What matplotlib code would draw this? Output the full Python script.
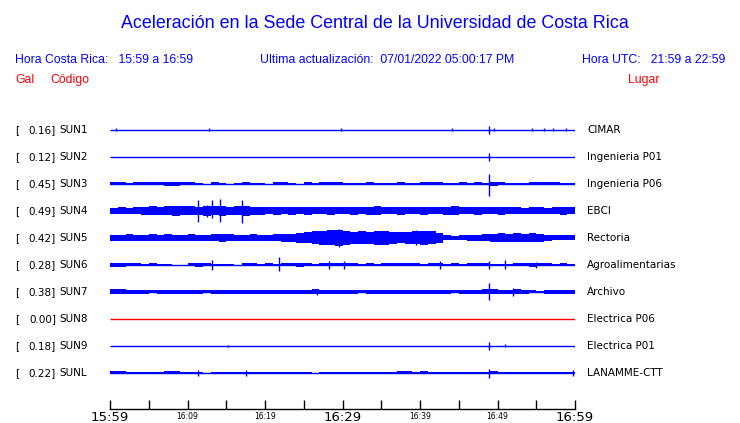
import matplotlib.pyplot as plt
import numpy as np

# station info
codes = ['SUN1', 'SUN2', 'SUN3', 'SUN4', 'SUN5', 'SUN6', 'SUN7', 'SUN8', 'SUN9', 'SUNL']
gals = [0.16, 0.12, 0.45, 0.49, 0.42, 0.28, 0.38, 0.00, 0.18, 0.22]
places = ['CIMAR', 'Ingenieria P01', 'Ingenieria P06', 'EBCI', 'Rectoria',
          'Agroalimentarias', 'Archivo', 'Electrica P06', 'Electrica P01', 'LANAMME-CTT']

# envelope (half amplitude) per minute
env_sun1 = [0] * 60
env_sun2 = [0] * 60
env_sun3 = [1.5, 1.5, 1, 1.5, 1.5, 1.5, 1.5, 2, 2, 1.5, 1.5, 1, 0, 1.5, 1, 0, 1, 1.5, 1, 1,
            0, 1.5, 1.5, 1, 0, 1.5, 1, 1.5, 1.5, 1.5, 1, 1, 0.8, 1.5, 1, 1, 1, 1.5, 1, 0.8,
            1.5, 1.5, 1.5, 0.5, 1, 1.5, 1, 1.5, 1, 2, 1.5, 1, 1, 1, 1.5, 1.5, 1.5, 1.5, 1, 1]
env_sun4 = [3, 3.5, 3, 3.5, 4, 4.5, 4, 4.5, 5, 4.5, 4.5, 4, 5, 4.5, 5, 4, 4.5, 5, 4, 4,
            3.5, 4, 3.5, 4, 3.5, 4, 3.5, 3.5, 4, 3.5, 3.5, 4, 3.5, 4, 4.5, 3.5, 3.5, 4, 3.5, 3.5,
            4, 3.5, 3.5, 4, 4.5, 3.5, 3.5, 4, 3.5, 3.5, 4, 3.5, 3.5, 3, 3.5, 3.5, 3, 3.5, 4, 3.5]
env_sun5 = [3, 3, 3.5, 3, 3, 3.5, 3, 3.5, 3, 3, 3.5, 3, 3, 3.5, 4, 3.5, 3, 3, 3.5, 3,
            3, 3.5, 4, 4, 5, 5.5, 6.5, 7, 7.5, 8, 7, 6, 6.5, 6, 7, 7, 6, 5.5, 6, 6.5,
            7, 6.5, 5, 2.5, 2, 2.5, 3, 3, 3.5, 4, 4.5, 4, 4.5, 4, 4.5, 4, 3, 2.5, 2.5, 2.5]
env_sun6 = [2, 2, 1.5, 1.5, 1, 1.5, 1, 0.5, 0, 0, 1.5, 2, 1.5, 1, 0.5, 1, 0, 1.5, 1.5, 1,
            1.5, 1, 1.5, 1.5, 2, 1.5, 1, 1.5, 1.5, 1.5, 1.5, 1.5, 1, 1.5, 1, 1.5, 1.5, 1.5, 1.5, 1.5,
            1, 1.5, 1.5, 0.5, 1.5, 1, 1.5, 1.5, 1.5, 1, 1, 0.5, 1.5, 1.5, 2, 1.5, 1.5, 1, 1.5, 1]
env_sun7 = [2.5, 2.5, 2, 2, 2, 1.5, 2, 2, 2, 2, 2, 2, 1.5, 2, 2, 2, 2, 2, 2, 2,
            2, 2, 2, 2, 2, 2, 2.5, 2, 2, 2, 2, 2, 1.5, 2, 2, 2, 2, 2, 2, 2,
            2, 2, 2, 2, 1.5, 2, 2, 2, 2.5, 2.5, 2, 2, 2.5, 2, 1.5, 1, 2, 2, 2, 2]
env_sun8 = [0] * 60
env_sun9 = [0] * 60
env_sunl = [1.5, 1.5, 1, 1, 1, 0.5, 1, 1.5, 1.5, 1, 1, 0.5, 0, 1, 1, 1, 0.5, 1, 0.5, 1,
            0.5, 1, 1, 1, 1, 1, 0, 0.5, 1, 1, 1, 1, 0.5, 1, 1, 1, 0.5, 1.5, 1.5, 1,
            1.5, 1, 1, 1, 1, 0.5, 1, 0.5, 1, 1.5, 0.5, 1, 1, 1, 1, 1, 1, 1, 1, 1]
envelopes = [env_sun1, env_sun2, env_sun3, env_sun4, env_sun5,
             env_sun6, env_sun7, env_sun8, env_sun9, env_sunl]

# spikes: (minute, up, down)
spikes = {
    'SUN1': [(0.8, 1.5, 1.5), (12.8, 1.5, 1.5), (29.8, 1.5, 1.5), (44.1, 1.5, 1.5), (48.9, 4, 4),
             (49.5, 1.5, 1.5), (54.5, 1.5, 1.5), (56.0, 1.5, 1.5), (57.2, 1.5, 1.5), (58.9, 1.5, 1.5)],
    'SUN2': [(48.9, 4, 4)],
    'SUN3': [(48.9, 10, 12)],
    'SUN4': [(11.4, 11, 11), (12.5, 6, 6), (13.1, 11, 7), (14.2, 12, 11), (17.0, 11, 12)],
    'SUN5': [(29.5, 9, 9), (39.5, 8, 7)],
    'SUN6': [(13.2, 5.5, 5.5), (21.8, 7.5, 6.5), (28.3, 3.5, 3.5), (30.2, 4, 4), (42.6, 4, 4),
             (48.9, 4, 4), (51.0, 4.5, 4), (55.0, 3, 3)],
    'SUN7': [(26.7, 3, 3), (48.9, 9, 8), (52.0, 4, 4)],
    'SUN8': [],
    'SUN9': [(15.2, 1, 1), (48.9, 4, 4), (51.0, 2, 1)],
    'SUNL': [(11.3, 3, 3), (17.5, 3, 3), (48.9, 4.5, 4.5), (59.8, 3, 3)],
}

tick_minutes = list(range(0, 61, 5))
tick_labels = {0: '15:59', 10: '16:09', 20: '16:19', 30: '16:29', 40: '16:39', 50: '16:49', 60: '16:59'}
big_ticks = [0, 30, 60]

BLUE = '#0000ff'
RED = '#ff0000'
ROW_PX = 27.0

fig = plt.figure(figsize=(7.4, 4.23), dpi=100)
W, H = 740, 423

ax = fig.add_axes([110 / W, (H - 409) / H, 465 / W, (409 - 116) / H])
ax.set_xlim(0, 60)
ax.set_ylim((409 - 130) / ROW_PX, (116 - 130) / ROW_PX)
for s in ['top', 'left', 'right']:
    ax.spines[s].set_visible(False)
ax.spines['bottom'].set_linewidth(1.0)
ax.set_yticks([])
ax.set_xticks(tick_minutes)
ax.set_xticklabels([''] * len(tick_minutes))
ax.tick_params(axis='x', direction='in', length=6.5, width=1.0, pad=3)

edges = np.arange(61)
for i, code in enumerate(codes):
    color = RED if code == 'SUN8' else BLUE
    env = np.array(envelopes[i], dtype=float) / ROW_PX
    env = np.append(env, env[-1])
    ax.plot([0, 60], [i, i], color=color, lw=1.0, solid_capstyle='butt')
    if env.max() > 0:
        ax.fill_between(edges, i - env, i + env, step='post', color=color, lw=0)
    for m, up, dn in spikes[code]:
        ax.vlines(m, i - up / ROW_PX, i + dn / ROW_PX, color=color, lw=1.0)

for m, lab in tick_labels.items():
    big = m in big_ticks
    ax.annotate(lab, xy=(m, 0), xycoords=('data', 'axes fraction'),
                xytext=(0, -1.2 if big else -1.8), textcoords='offset points', ha='center', va='top',
                fontsize=9.5 if big else 5.5, family='DejaVu Sans')

hdr = 'Liberation Sans'
fig.text(375 / W, 1 - 23 / H, 'Aceleración en la Sede Central de la Universidad de Costa Rica',
         ha='center', va='center', color=BLUE, fontsize=12.9, family=hdr)
fig.text(15 / W, 1 - 60 / H, 'Hora Costa Rica:   15:59 a 16:59', ha='left', va='center',
         color=BLUE, fontsize=8.8, family=hdr)
fig.text(260 / W, 1 - 60 / H, 'Ultima actualización:  07/01/2022 05:00:17 PM', ha='left', va='center',
         color=BLUE, fontsize=8.8, family=hdr)
fig.text(725 / W, 1 - 60 / H, 'Hora UTC:   21:59 a 22:59', ha='right', va='center',
         color=BLUE, fontsize=8.8, family=hdr)
fig.text(15 / W, 1 - 80 / H, 'Gal', ha='left', va='center', color=RED, fontsize=8.8, family=hdr)
fig.text(50 / W, 1 - 80 / H, 'Código', ha='left', va='center', color=RED, fontsize=8.8, family=hdr)
fig.text(628 / W, 1 - 80 / H, 'Lugar', ha='left', va='center', color=RED, fontsize=8.8, family=hdr)

for i, code in enumerate(codes):
    y = 1 - (130 + ROW_PX * i) / H
    fig.text(15 / W, y, '[', ha='left', va='center', fontsize=7.5, family='DejaVu Sans')
    fig.text(56 / W, y, f'{gals[i]:.2f}]', ha='right', va='center',
             fontsize=7.5, family='DejaVu Sans')
    fig.text(59 / W, y, code, ha='left', va='center', fontsize=7.5, family='DejaVu Sans')
    fig.text(587 / W, y, places[i], ha='left', va='center', fontsize=7.5, family='DejaVu Sans')

fig.savefig('out.png', dpi=100)
